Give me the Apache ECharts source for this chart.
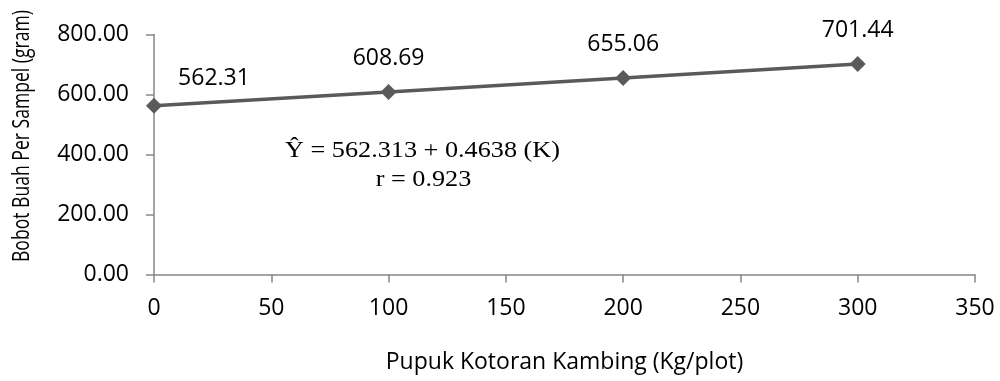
<!DOCTYPE html>
<html><head><meta charset="utf-8">
<script src="https://cdn.jsdelivr.net/npm/echarts@6/dist/echarts.min.js"></script>
<style>html,body{margin:0;padding:0;background:#fff}#c{width:1000px;height:381px}</style>
</head><body><div id="c"></div>
<script>
const xValues = [0, 100, 200, 300];
const yValues = [562.31, 608.69, 655.06, 701.44];
const xTicks = [0, 50, 100, 150, 200, 250, 300, 350];
const yTicks = ['0.00', '200.00', '400.00', '600.00', '800.00'];
const xTitle = 'Pupuk Kotoran Kambing (Kg/plot)';
const yTitle = 'Bobot Buah Per Sampel (gram)';
const eqLine1 = 'Ŷ = 562.313 + 0.4638 (K)';
const eqLine2 = 'r = 0.923';

const FONT = '"Open Sans", sans-serif';
const SERIF = '"Liberation Serif", "Times New Roman", serif';
const ctx = document.createElement('canvas').getContext('2d');
function fitScale(text, font, target) {
  ctx.font = font;
  return target / ctx.measureText(text).width;
}
const yTitleFont = '24px ' + FONT;
const eqFont = '23px ' + SERIF;
const yTitleScale = fitScale(yTitle, yTitleFont, 252);
const eqScale = fitScale(eqLine1, eqFont, 275);

const chart = echarts.init(document.getElementById('c'), null, {renderer: 'canvas'});
const data = xValues.map((x, i) => {
  const d = {value: [x, yValues[i]]};
  if (i === 0) d.label = {offset: [60, 6]};
  return d;
});
chart.setOption({
  animation: false,
  backgroundColor: '#ffffff',
  grid: {left: 154, right: 25, top: 34.5, bottom: 106.5},
  xAxis: {
    type: 'value', min: 0, max: 350, interval: 50,
    axisLine: {show: true, lineStyle: {color: '#868686', width: 1.5}},
    axisTick: {show: true, length: 8, lineStyle: {color: '#868686', width: 1.5}},
    splitLine: {show: false},
    axisLabel: {color: '#000', fontFamily: FONT, fontSize: 23, margin: 22,
      formatter: v => String(xTicks[xTicks.indexOf(v)])},
    name: xTitle, nameLocation: 'middle', nameGap: 76,
    nameTextStyle: {color: '#000', fontFamily: FONT, fontSize: 23}
  },
  yAxis: {
    type: 'value', min: 0, max: 800, interval: 200,
    axisLine: {show: true, lineStyle: {color: '#868686', width: 1.5}},
    axisTick: {show: true, length: 8, lineStyle: {color: '#868686', width: 1.5}},
    splitLine: {show: false},
    axisLabel: {color: '#000', fontFamily: FONT, fontSize: 23, margin: 25,
      formatter: v => yTicks[Math.round(v / 200)]}
  },
  graphic: [
    {type: 'text', x: 22, y: 136, rotation: Math.PI / 2, scaleX: yTitleScale,
      style: {text: yTitle, fill: '#000', font: yTitleFont, align: 'center', verticalAlign: 'middle'}},
    {type: 'text', x: 422.5, y: 151, scaleX: eqScale,
      style: {text: eqLine1, fill: '#000', font: eqFont, align: 'center', verticalAlign: 'middle'}},
    {type: 'text', x: 423.5, y: 180, scaleX: eqScale,
      style: {text: eqLine2, fill: '#000', font: eqFont, align: 'center', verticalAlign: 'middle'}}
  ],
  series: [{
    type: 'line', data: data,
    symbol: 'diamond', symbolSize: 16,
    lineStyle: {color: '#5a5a5a', width: 3.5},
    itemStyle: {color: '#5a5a5a'},
    label: {show: true, position: 'top', distance: 14, color: '#000', fontFamily: FONT, fontSize: 23,
      formatter: p => p.value[1].toFixed(2)}
  }]
});
</script></body></html>
